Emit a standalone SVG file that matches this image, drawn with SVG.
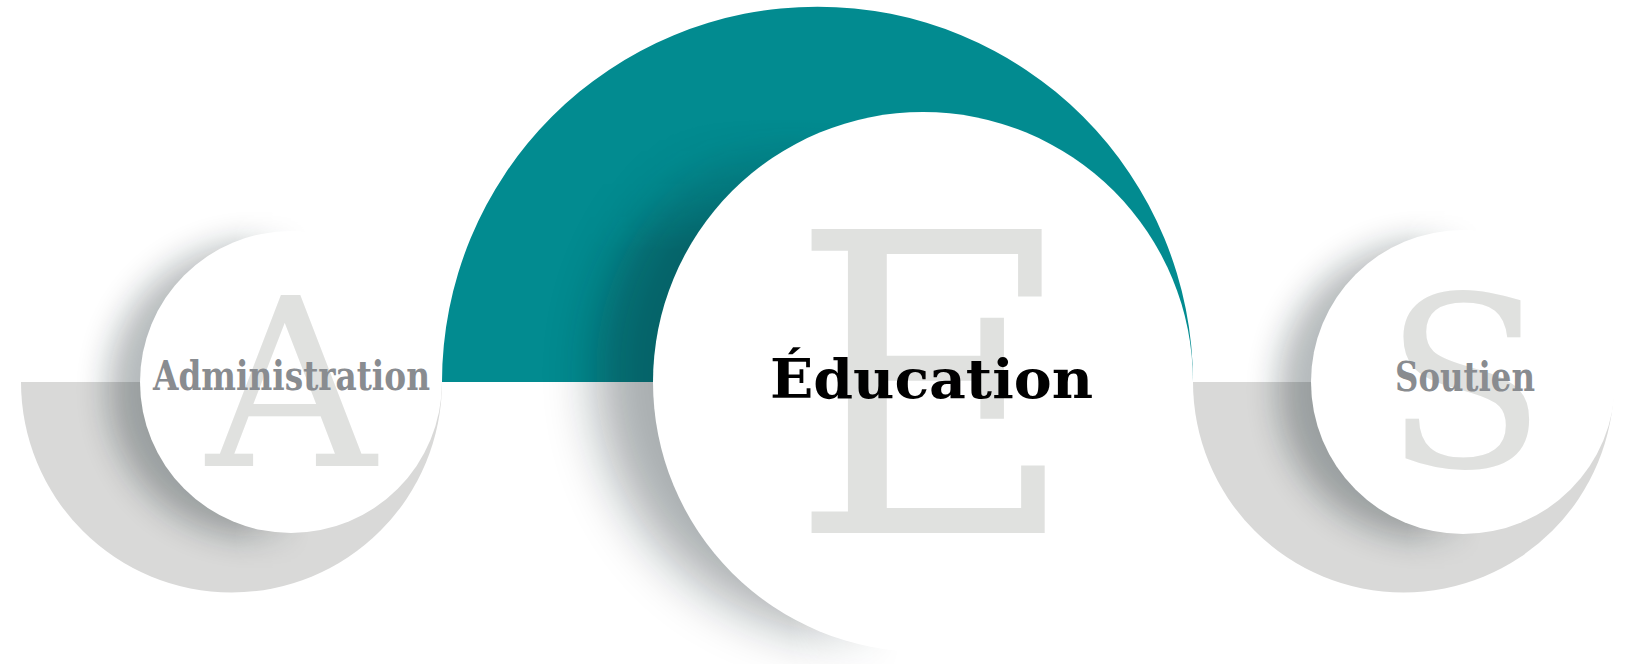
<svg xmlns="http://www.w3.org/2000/svg" width="1644" height="664" viewBox="0 0 1644 664">
<defs>
  <filter id="blurS" x="-50%" y="-50%" width="200%" height="200%"><feGaussianBlur stdDeviation="16"/></filter>
  <filter id="blurL" x="-50%" y="-50%" width="200%" height="200%"><feGaussianBlur stdDeviation="26"/></filter>
  <linearGradient id="fadeA" gradientUnits="userSpaceOnUse" x1="235" y1="0" x2="310" y2="0">
    <stop offset="0" stop-color="#fff"/><stop offset="1" stop-color="#000"/>
  </linearGradient>
  <linearGradient id="fadeE" gradientUnits="userSpaceOnUse" x1="790" y1="0" x2="900" y2="0">
    <stop offset="0" stop-color="#fff"/><stop offset="1" stop-color="#000"/>
  </linearGradient>
  <linearGradient id="fadeEtop" gradientUnits="userSpaceOnUse" x1="0" y1="250" x2="0" y2="118">
    <stop offset="0" stop-color="#fff"/><stop offset="1" stop-color="#000"/>
  </linearGradient>
  <linearGradient id="fadeS" gradientUnits="userSpaceOnUse" x1="1407" y1="0" x2="1482" y2="0">
    <stop offset="0" stop-color="#fff"/><stop offset="1" stop-color="#000"/>
  </linearGradient>
  <mask id="maskA" maskUnits="userSpaceOnUse" x="0" y="0" width="1644" height="664"><rect width="1644" height="664" fill="url(#fadeA)"/></mask>
  <mask id="maskE" maskUnits="userSpaceOnUse" x="0" y="0" width="1644" height="664"><rect width="1644" height="664" fill="url(#fadeE)"/></mask>
  <mask id="maskEtop" maskUnits="userSpaceOnUse" x="0" y="0" width="1644" height="664"><rect width="1644" height="664" fill="url(#fadeEtop)"/></mask>
  <mask id="maskS" maskUnits="userSpaceOnUse" x="0" y="0" width="1644" height="664"><rect width="1644" height="664" fill="url(#fadeS)"/></mask>
</defs>
<style>
  .grey{fill:#d9d9d8}
  .teal{fill:#028b90}
  .disk{fill:#ffffff}
  .shadow{fill:#0b1a24}
  .big{font-family:"DejaVu Serif","Liberation Serif",serif;fill:#e0e1df}
  .label{font-family:"DejaVu Serif Condensed","DejaVu Serif","Liberation Serif",serif;font-weight:bold;fill:#898c90}
  .main{font-family:"DejaVu Serif Condensed","DejaVu Serif","Liberation Serif",serif;font-weight:bold;fill:#000000}
</style>
<rect width="1644" height="664" fill="#ffffff"/>

<g id="backdrop">
  <path class="grey" d="M21,382 A210.5,210.5 0 0 0 442,382 Z"/>
  <path class="grey" d="M1193,382 A210.5,210.5 0 0 0 1614,382 Z"/>
  <path class="teal" d="M442,382 A375.5,375.5 0 0 1 1193,382 Z"/>
</g>

<g id="node-administration">
  <g mask="url(#maskA)">
    <circle class="shadow" cx="255" cy="390" r="147" opacity="0.3" filter="url(#blurS)"/>
  </g>
  <circle class="disk" cx="291" cy="382" r="151"/>
  <text class="big" x="291" y="466" font-size="235" text-anchor="middle">A</text>
  <text class="label" x="153" y="389.5" font-size="41" textLength="277" lengthAdjust="spacingAndGlyphs">Administration</text>
</g>

<g id="node-education">
  <g mask="url(#maskEtop)">
    <g mask="url(#maskE)">
      <circle class="shadow" cx="858" cy="373" r="262" opacity="0.35" filter="url(#blurL)"/>
    </g>
  </g>
  <circle class="disk" cx="923" cy="382" r="270"/>
  <text class="big" transform="translate(933,533) scale(0.94,1)" font-size="417" text-anchor="middle">E</text>
  <text class="main" x="770" y="398" font-size="55" textLength="323" lengthAdjust="spacingAndGlyphs">Éducation</text>
</g>

<g id="node-soutien">
  <g mask="url(#maskS)">
    <circle class="shadow" cx="1426" cy="390" r="148" opacity="0.3" filter="url(#blurS)"/>
  </g>
  <circle class="disk" cx="1463" cy="382" r="152"/>
  <text class="big" x="1465" y="467" font-size="238" text-anchor="middle">S</text>
  <text class="label" x="1395" y="391" font-size="41" textLength="140" lengthAdjust="spacingAndGlyphs">Soutien</text>
</g>
</svg>
